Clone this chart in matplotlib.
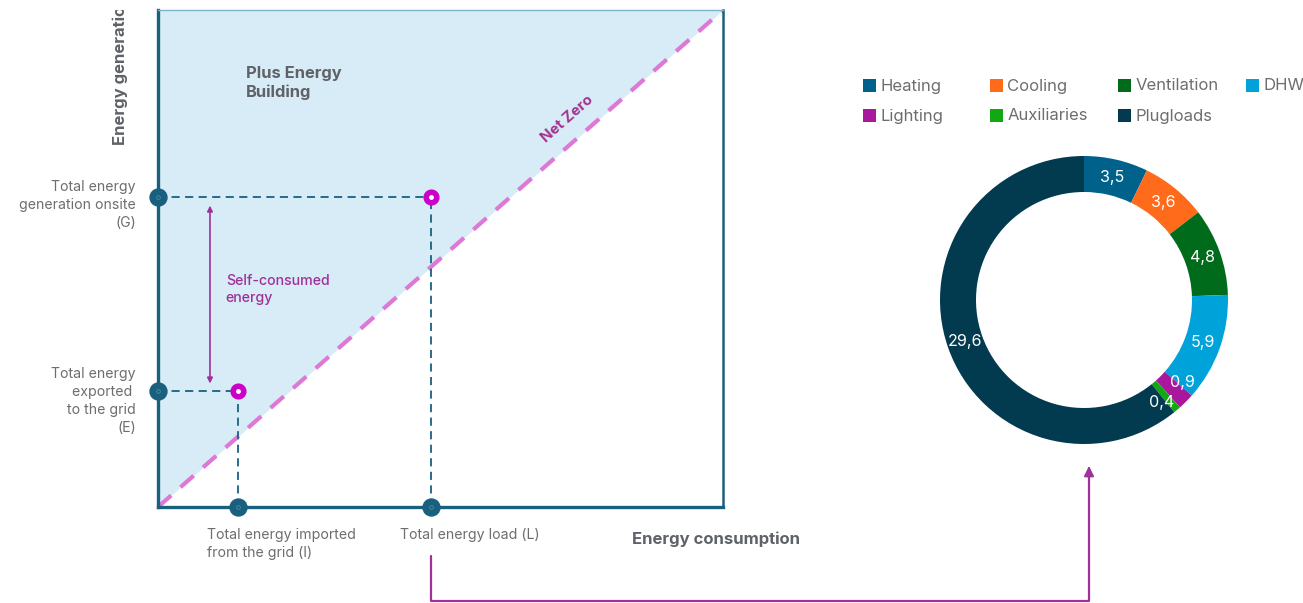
import matplotlib
matplotlib.use("Agg")
import matplotlib.pyplot as plt
from matplotlib.patches import Rectangle, FancyArrowPatch
from matplotlib.path import Path
from matplotlib.transforms import Bbox, TransformedBbox
import numpy as np

plt.rcParams['font.family'] = ['Inter', 'DejaVu Sans']

# Energy balance schematic (normalised axes 0..1)
load_L = 0.483
imported_I = 0.142
generation_G = 0.624
exported_E = 0.233

# End-use breakdown of the energy load
categories = ['Heating', 'Cooling', 'Ventilation', 'DHW', 'Lighting', 'Auxiliaries', 'Plugloads']
values = [3.5, 3.6, 4.8, 5.9, 0.9, 0.4, 29.6]
value_labels = ['3,5', '3,6', '4,8', '5,9', '0,9', '0,4', '29,6']
colors = ['#00628a', '#ff6b1a', '#006b1b', '#00a2da', '#a8179c', '#12a812', '#023a4f']

W, H = 1303, 603
DPI = 100


def fx(px):
    return px / W


def fy(py):
    return 1 - py / H


TEAL = '#19607f'
GREY = '#6e6e6e'
DARKGREY = '#5f6368'
PURPLE = '#a0309a'
PINK = '#de78d6'
MAGENTA = '#cc00c8'

fig = plt.figure(figsize=(W / DPI, H / DPI), dpi=DPI)

# ---------- left: generation vs consumption ----------
ax = fig.add_axes([fx(158), fy(507), 565 / W, 497 / H])
ax.set_xlim(0, 1)
ax.set_ylim(0, 1)
ax.set_xticks([])
ax.set_yticks([])
ax.fill_between([0, 1], [0, 1], [1, 1], color='#d7ecf7', lw=0, zorder=0)
ax.plot([0, 1], [0, 1], color=PINK, lw=3, dashes=(4.2, 3.0), zorder=2,
        solid_capstyle='butt', dash_capstyle='butt')

for s in ['left', 'bottom']:
    ax.spines[s].set_color(TEAL)
    ax.spines[s].set_linewidth(2.4)
ax.spines['right'].set_color(TEAL)
ax.spines['right'].set_linewidth(1.8)
ax.spines['top'].set_color('#7fb2cc')
ax.spines['top'].set_linewidth(1.0)

dash_kw = dict(color=TEAL, lw=1.3, dashes=(4.5, 3.0), zorder=3)
ax.plot([0, load_L], [generation_G, generation_G], **dash_kw)
ax.plot([load_L, load_L], [0, generation_G], **dash_kw)
ax.plot([0, imported_I], [exported_E, exported_E], **dash_kw)
ax.plot([imported_I, imported_I], [0, exported_E], **dash_kw)

# axis markers
ax.plot([0, 0, imported_I, load_L], [generation_G, exported_E, 0, 0], 'o',
        ms=12.2, color=TEAL, mec=TEAL, clip_on=False, zorder=5)
ax.plot([0, 0, imported_I, load_L], [generation_G, exported_E, 0, 0], 'o',
        ms=2.6, mfc='none', mec='white', mew=0.5, alpha=0.3, clip_on=False, zorder=6)

# operating points
ax.plot([load_L, imported_I], [generation_G, exported_E], 'o', ms=7.6,
        mfc='white', mec=MAGENTA, mew=4.0, clip_on=False, zorder=6)

# self-consumed arrow
ax.add_patch(FancyArrowPatch((0.092, generation_G - 0.012), (0.092, exported_E + 0.01),
                             arrowstyle='<|-|>', mutation_scale=8, color=PURPLE,
                             lw=1.2, zorder=4))
ax.text(0.12, (generation_G + exported_E) / 2 + 0.009, 'Self-consumed\nenergy',
        color=PURPLE, fontsize=10.2, fontweight='medium', va='center', ha='left',
        linespacing=1.25)

ax.text(0.155, 0.853, 'Plus Energy\nBuilding', color=DARKGREY, fontsize=11.9,
        fontweight='bold', va='center', ha='left', linespacing=1.3)

ang = np.degrees(np.arctan2(497, 565))
ax.text(0.725, 0.78, 'Net Zero', color='#a3338f', fontsize=10.8, fontweight='bold',
        rotation=ang, rotation_mode='anchor', ha='center', va='center')

# tick-style annotations
lab_kw = dict(color=GREY, fontsize=10.2, linespacing=1.36, annotation_clip=False)
ax.annotate('Total energy\ngeneration onsite\n(G)', xy=(0, generation_G),
            xytext=(-22, -8), textcoords='offset pixels', ha='right', va='center', **lab_kw)
ax.annotate('Total energy\nexported \nto the grid\n(E)', xy=(0, exported_E),
            xytext=(-22, -10), textcoords='offset pixels', ha='right', va='center', **lab_kw)
ax.annotate('Total energy imported\nfrom the grid (I)', xy=(imported_I, 0),
            xytext=(-31, -21), textcoords='offset pixels', ha='left', va='top', **lab_kw)
ax.annotate('Total energy load (L)', xy=(load_L, 0),
            xytext=(-31, -21), textcoords='offset pixels', ha='left', va='top', **lab_kw)

fig.text(fx(632), fy(539), 'Energy consumption', color=DARKGREY, fontsize=12,
         fontweight='bold', ha='left', va='center')
ylab = fig.text(fx(120), fy(145), 'Energy generation', color=DARKGREY, fontsize=12,
                fontweight='bold', rotation=90, ha='center', va='bottom')
ylab.set_clip_box(TransformedBbox(Bbox([[0, 0], [fx(150), fy(10)]]), fig.transFigure))
ylab.set_clip_on(True)

# ---------- right: end-use donut ----------
R_OUT = 144
pad = 150
ax2 = fig.add_axes([fx(1084 - pad), fy(300 + pad), 2 * pad / W, 2 * pad / H])
wedges, _, autotexts = ax2.pie(values, colors=colors, startangle=90, counterclock=False,
                               radius=1.0, wedgeprops=dict(width=36 / R_OUT, lw=0),
                               autopct='%1.1f', pctdistance=126 / R_OUT,
                               textprops=dict(color='white', fontsize=11.6))
# spread the labels of the two narrow slices apart
nudge_deg = {4: 6.0, 5: -2.5}
cum = np.cumsum([0] + values)
total = cum[-1]
for i, (t, lbl) in enumerate(zip(autotexts, value_labels)):
    t.set_text(lbl)
    if i in nudge_deg:
        mid = 90 - 360 * (cum[i] + values[i] / 2) / total + nudge_deg[i]
        r = 126 / R_OUT
        t.set_position((r * np.cos(np.radians(mid)), r * np.sin(np.radians(mid)) - 0.02))
ax2.set_xlim(-pad / R_OUT, pad / R_OUT)
ax2.set_ylim(-pad / R_OUT, pad / R_OUT)
ax2.set_aspect('equal')
ax2.axis('off')

# legend grid
col_x = [863, 990, 1118, 1246]
row_y = [85, 115]
for i, (name, c) in enumerate(zip(categories, colors)):
    r, k = divmod(i, 4)
    x0, y0 = col_x[k], row_y[r]
    fig.patches.append(Rectangle((fx(x0), fy(y0 + 6.5)), 13 / W, 13 / H,
                                 transform=fig.transFigure, color=c, lw=0))
    fig.text(fx(x0 + 17.5), fy(y0 + 1), name, color=GREY, fontsize=12,
             ha='left', va='center')

# link arrow from the load to the breakdown
link = FancyArrowPatch(path=Path(
    [(fx(431), fy(556)), (fx(431), fy(601)), (fx(1089), fy(601)), (fx(1089), fy(466))],
    [1, 2, 2, 2]),
    arrowstyle='-|>', mutation_scale=14, color=PURPLE, lw=1.6,
    transform=fig.transFigure)
fig.patches.append(link)

fig.savefig('out.png', dpi=DPI)
